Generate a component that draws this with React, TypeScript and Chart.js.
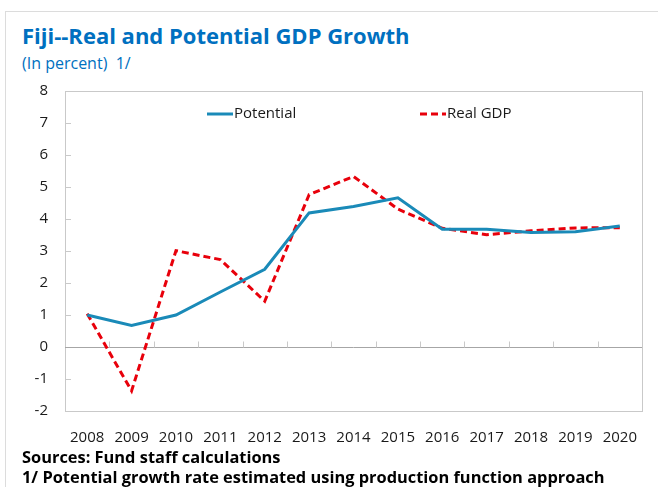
import React, { useEffect, useRef } from "react";
import { Chart, registerables } from "chart.js";

Chart.register(...registerables);

const years = ["2008", "2009", "2010", "2011", "2012", "2013", "2014", "2015", "2016", "2017", "2018", "2019", "2020"];
const potential = [1.0, 0.67, 1.0, 1.72, 2.43, 4.19, 4.39, 4.66, 3.68, 3.68, 3.58, 3.6, 3.78];
const realGdp = [1.04, -1.37, 3.01, 2.73, 1.43, 4.76, 5.33, 4.31, 3.71, 3.51, 3.63, 3.72, 3.73];
const yMin = -2;
const yMax = 8;

const FONT = "'Open Sans', 'Noto Sans', sans-serif";

const boxPlugin = {
  id: "excelBox",
  beforeDatasetsDraw(chart: any) {
    const { ctx, chartArea, scales } = chart;
    const { left, right, top, bottom } = chartArea;
    const x = scales.x;
    const y = scales.y;
    ctx.save();
    ctx.lineWidth = 1;
    ctx.strokeStyle = "#c9c9c9";
    ctx.strokeRect(Math.round(left) + 0.5, Math.round(top) + 0.5, Math.round(right - left), Math.round(bottom - top));
    ctx.beginPath();
    y.ticks.forEach((t: any) => {
      const py = Math.round(y.getPixelForValue(t.value)) + 0.5;
      ctx.moveTo(left, py);
      ctx.lineTo(left + 6, py);
    });
    ctx.stroke();
    const z = Math.round(y.getPixelForValue(0)) + 0.5;
    ctx.strokeStyle = "#a6a6a6";
    ctx.beginPath();
    ctx.moveTo(left, z);
    ctx.lineTo(right, z);
    ctx.stroke();
    ctx.strokeStyle = "#c9c9c9";
    ctx.beginPath();
    for (let i = 1; i < years.length; i++) {
      const px = Math.round((x.getPixelForValue(i - 1) + x.getPixelForValue(i)) / 2) + 0.5;
      ctx.moveTo(px, z);
      ctx.lineTo(px, z - 6);
    }
    ctx.stroke();
    ctx.restore();
  },
  afterDraw(chart: any) {
    const { ctx, chartArea } = chart;
    const { left, top } = chartArea;
    const items = [
      { ds: chart.data.datasets[0], x0: left + 142 },
      { ds: chart.data.datasets[1], x0: left + 355 },
    ];
    ctx.save();
    items.forEach(({ ds, x0 }) => {
      const ly = top + 23;
      ctx.beginPath();
      ctx.lineWidth = ds.borderWidth;
      ctx.strokeStyle = ds.borderColor;
      ctx.setLineDash(ds.borderDash || []);
      ctx.moveTo(x0, ly);
      ctx.lineTo(x0 + 26, ly);
      ctx.stroke();
      ctx.setLineDash([]);
      ctx.fillStyle = "#1a1a1a";
      ctx.font = `15px ${FONT}`;
      ctx.textBaseline = "middle";
      ctx.fillText(ds.label, x0 + 27, ly);
    });
    ctx.restore();
  },
};

export default function App() {
  const ref = useRef<HTMLCanvasElement | null>(null);
  useEffect(() => {
    if (!ref.current) return;
    const chart = new Chart(ref.current, {
      type: "line",
      data: {
        labels: years,
        datasets: [
          {
            label: "Potential",
            data: potential,
            borderColor: "#1a8ab8",
            borderWidth: 3,
            pointRadius: 0,
            tension: 0,
            fill: false,
          },
          {
            label: "Real GDP",
            data: realGdp,
            borderColor: "#e8000b",
            borderWidth: 3,
            borderDash: [7, 4],
            pointRadius: 0,
            tension: 0,
            fill: false,
          },
        ],
      },
      options: {
        animation: false,
        responsive: false,
        maintainAspectRatio: false,
        layout: { padding: { left: 0, right: 16, top: 91, bottom: 0 } },
        plugins: { legend: { display: false }, tooltip: { enabled: false }, title: { display: false } },
        scales: {
          x: {
            type: "category",
            offset: true,
            grid: { display: false, drawTicks: false },
            border: { display: false },
            ticks: { color: "#1a1a1a", font: { size: 15, family: FONT }, padding: 18, maxRotation: 0, autoSkip: false },
          },
          y: {
            min: yMin,
            max: yMax,
            afterFit(scale: any) { scale.width = 65; },
            grid: { display: false, drawTicks: false },
            border: { display: false },
            ticks: { stepSize: 1, color: "#1a1a1a", font: { size: 15, family: FONT }, padding: 17 },
          },
        },
      },
      plugins: [boxPlugin],
    });
    return () => chart.destroy();
  }, []);

  return (
    <div style={{ position: "fixed", left: 0, top: 0, width: 658, height: 487, background: "#fff", overflow: "hidden" }}>
      <div style={{ position: "absolute", left: 5, top: 11, width: 700, height: 600, border: "1px solid #dcdcdc" }} />
      <div style={{ position: "absolute", left: 22, top: 20, fontFamily: FONT, fontWeight: 700, fontSize: 22, color: "#0070c0", whiteSpace: "nowrap", lineHeight: "30px" }}>
        Fiji--Real and Potential GDP Growth
      </div>
      <div style={{ position: "absolute", left: 22, top: 53, fontFamily: FONT, fontSize: 16, color: "#0070c0", whiteSpace: "pre", lineHeight: "20px" }}>
        {"(In percent)  1/"}
      </div>
      <canvas ref={ref} width={658} height={465} style={{ position: "absolute", left: 0, top: 0, width: 658, height: 465 }} />
      <div style={{ position: "absolute", left: 22, top: 447, fontFamily: FONT, fontWeight: 700, fontSize: 16.4, color: "#000", whiteSpace: "nowrap", lineHeight: "20px" }}>
        Sources: Fund staff calculations
      </div>
      <div style={{ position: "absolute", left: 22, top: 467, fontFamily: FONT, fontWeight: 700, fontSize: 16.4, color: "#000", whiteSpace: "nowrap", lineHeight: "20px" }}>
        1/ Potential growth rate estimated using production function approach
      </div>
    </div>
  );
}
